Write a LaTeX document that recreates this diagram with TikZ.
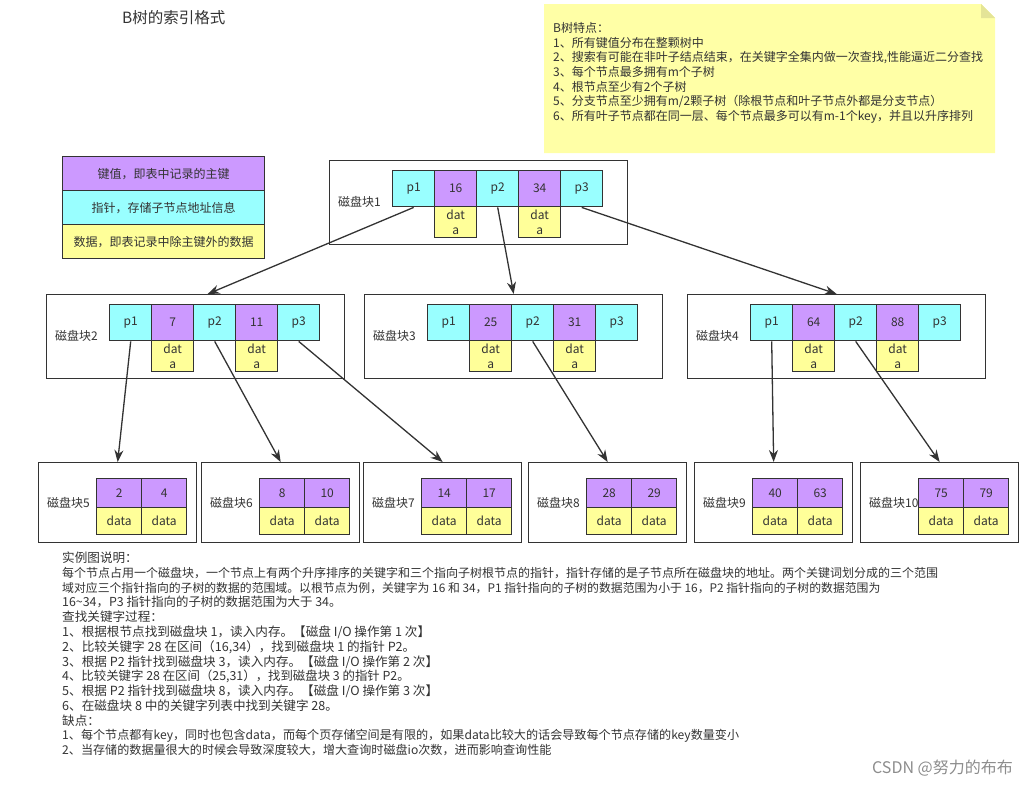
\documentclass[tikz,border=0pt]{standalone}
\usepackage{fontspec}
\setmainfont{Noto Sans CJK SC}
\usetikzlibrary{arrows.meta,positioning}
\definecolor{keyc}{HTML}{CC99FF}
\definecolor{ptrc}{HTML}{99FFFF}
\definecolor{datc}{HTML}{FFFF99}
\definecolor{notec}{HTML}{FFFFA6}
\definecolor{notefold}{HTML}{E4E497}
\definecolor{linec}{HTML}{333333}
\definecolor{txtc}{HTML}{333333}

\tikzset{
  cell/.style={draw=linec, line width=1.4pt, minimum width=42pt, minimum height=36pt,
    inner sep=0pt, anchor=north west, text=txtc, font=\fontsize{12}{14}\selectfont},
  keycell/.style={cell, fill=keyc},
  ptrcell/.style={cell, fill=ptrc},
  datcell/.style={cell, fill=datc, minimum height=31pt, align=center,
    font=\fontsize{12}{15}\selectfont},
  leafkey/.style={cell, fill=keyc, minimum width=45pt, minimum height=29pt},
  leafdat/.style={cell, fill=datc, minimum width=45pt, minimum height=27pt},
  diskbox/.style={draw=linec, line width=1.3pt, anchor=north west, inner sep=0pt},
  disklabel/.style={anchor=west, inner sep=0pt, text=txtc, font=\fontsize{12}{14}\selectfont},
  legendrow/.style={draw=linec, line width=1.4pt, anchor=north west, minimum width=202pt,
    minimum height=34pt, inner sep=0pt, text=txtc, font=\fontsize{12}{14}\selectfont},
  ptrarrow/.style={draw=linec, line width=1.3pt, -{Stealth[length=12pt,width=9pt]}},
  textline/.style={anchor=base west, inner sep=0pt, text=txtc},
}

\begin{document}
\begin{tikzpicture}[x=1pt,y=-1pt]
  \useasboundingbox (0,0) rectangle (1028,788);
  \node[anchor=west, inner sep=0pt, text=txtc, font=\fontsize{15.5}{18}\selectfont] (title) at (122,18) {B树的索引格式};

  % note with the features
  \fill[notec] (544,4) -- (981,4) -- (995,18) -- (995,153) -- (544,153) -- cycle;
  \fill[notefold] (981,4) -- (995,18) -- (981,18) -- cycle;
  \foreach \t [count=\i] in {B树特点：, 1、所有键值分布在整颗树中,
      {2、搜索有可能在非叶子结点结束，在关键字全集内做一次查找,性能逼近二分查找},
      3、每个节点最多拥有m个子树, 4、根节点至少有2个子树,
      {5、分支节点至少拥有m/2颗子树（除根节点和叶子节点外都是分支节点）},
      6、所有叶子节点都在同一层、每个节点最多可以有m-1个key，并且以升序排列}{
    \node[textline, font=\fontsize{12}{14}\selectfont] (note\i) at (553,{32.4+(\i-1)*14.67}) {\t};
  }

  % legend
  \node[legendrow, fill=keyc] (lgkey) at (62,156) {键值，即表中记录的主键};
  \node[legendrow, fill=ptrc] (lgptr) at (62,190) {指针，存储子节点地址信息};
  \node[legendrow, fill=datc] (lgdat) at (62,224) {数据，即表记录中除主键外的数据};

  % inner disk blocks
  \foreach \b/\x/\y/\ka/\kb in {1/329/160/16/34, 2/46/294/7/11, 3/364/294/25/31, 4/687/294/64/88}{
    \node[diskbox, minimum width=298pt, minimum height=84pt] (b\b) at (\x,\y) {};
    \node[disklabel] (b\b-lab) at (\x+9,\y+42) {磁盘块\b};
    \node[ptrcell] (b\b-c1) at (\x+63,\y+10) {p1};
    \node[keycell] (b\b-c2) at (\x+105,\y+10) {\ka};
    \node[ptrcell] (b\b-c3) at (\x+147,\y+10) {p2};
    \node[keycell] (b\b-c4) at (\x+189,\y+10) {\kb};
    \node[ptrcell] (b\b-c5) at (\x+231,\y+10) {p3};
    \node[datcell] (b\b-d2) at (\x+105,\y+46) {dat\\a};
    \node[datcell] (b\b-d4) at (\x+189,\y+46) {dat\\a};
  }

  % leaf disk blocks
  \foreach \b/\x/\ka/\kb in {5/38/2/4, 6/201/8/10, 7/363/14/17, 8/528/28/29, 9/694/40/63, 10/860/75/79}{
    \node[diskbox, minimum width=158pt, minimum height=80pt] (b\b) at (\x,462) {};
    \node[disklabel] (b\b-lab) at (\x+9,503) {磁盘块\b};
    \node[leafkey] (b\b-k1) at (\x+58,478) {\ka};
    \node[leafkey] (b\b-k2) at (\x+103,478) {\kb};
    \node[leafdat] (b\b-d1) at (\x+58,507) {data};
    \node[leafdat] (b\b-d2) at (\x+103,507) {data};
  }

  % pointers
  \draw[ptrarrow] (b1-c1.south) -- ([xshift=12pt]b2.north);
  \draw[ptrarrow] (b1-c3.south) -- (b3.north);
  \draw[ptrarrow] (b1-c5.south) -- (b4.north);
  \draw[ptrarrow] (b2-c1.south) -- (b5.north);
  \draw[ptrarrow] (b2-c3.south) -- (b6.north);
  \draw[ptrarrow] (b2-c5.south) -- (b7.north);
  \draw[ptrarrow] (b3-c3.south) -- (b8.north);
  \draw[ptrarrow] (b4-c1.south) -- (b9.north);
  \draw[ptrarrow] (b4-c3.south) -- (b10.north);

  % explanation
  \foreach \t/\fs [count=\i] in {实例图说明：/12.6,
      每个节点占用一个磁盘块，一个节点上有两个升序排序的关键字和三个指向子树根节点的指针，指针存储的是子节点所在磁盘块的地址。两个关键词划分成的三个范围/12.0,
      域对应三个指针指向的子树的数据的范围域。以根节点为例，关键字为 16 和 34，P1 指针指向的子树的数据范围为小于 16，P2 指针指向的子树的数据范围为/11.85,
      {16\textasciitilde 34，P3 指针指向的子树的数据范围为大于 34。}/12.4,
      查找关键字过程：/12.6,
      {1、根据根节点找到磁盘块 1，读入内存。【磁盘 I{/}O 操作第 1 次】}/12.6,
      {2、比较关键字 28 在区间（16,34），找到磁盘块 1 的指针 P2。}/12.6,
      {3、根据 P2 指针找到磁盘块 3，读入内存。【磁盘 I{/}O 操作第 2 次】}/12.6,
      {4、比较关键字 28 在区间（25,31），找到磁盘块 3 的指针 P2。}/12.4,
      {5、根据 P2 指针找到磁盘块 8，读入内存。【磁盘 I{/}O 操作第 3 次】}/12.6,
      6、在磁盘块 8 中的关键字列表中找到关键字 28。/12.6,
      缺点：/12.6,
      1、每个节点都有key，同时也包含data，而每个页存储空间是有限的，如果data比较大的话会导致每个节点存储的key数量变小/12.1,
      2、当存储的数据量很大的时候会导致深度较大，增大查询时磁盘io次数，进而影响查询性能/12.1}{
    \node[textline, font=\fontsize{\fs}{14}\selectfont] (desc\i) at (62,{562.6+(\i-1)*14.77}) {\t};
  }

  \node[anchor=east, inner sep=0pt, text=black!45, font=\fontsize{16}{18}\selectfont] (mark) at (1013,768) {CSDN @努力的布布};
\end{tikzpicture}
\end{document}
